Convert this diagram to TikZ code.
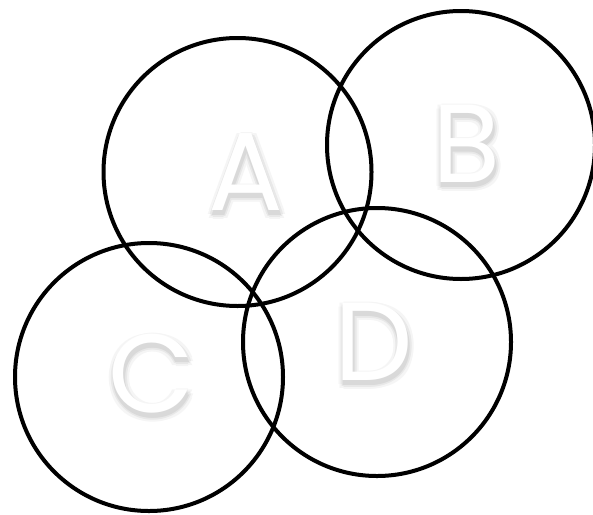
\documentclass[tikz,border=0pt]{standalone}
\usepackage{fontspec}
\setmainfont{Poppins}
\newcommand\shcp[4]{\rlap{\kern#1pt\raisebox{#2pt}{\textcolor{#3}{#4}}}}
\newcommand\embossed[1]{%
  \shcp{6}{-4}{black!4}{#1}\shcp{-4}{-4}{black!4}{#1}\shcp{1}{-9}{black!4}{#1}\shcp{1}{1}{black!4}{#1}%
  \shcp{5}{-8}{black!4}{#1}\shcp{-3}{-8}{black!4}{#1}\shcp{5}{0}{black!4}{#1}\shcp{-3}{0}{black!4}{#1}%
  \shcp{4}{-4}{black!9}{#1}\shcp{-2}{-4}{black!9}{#1}\shcp{1}{-7}{black!9}{#1}\shcp{1}{-1}{black!9}{#1}%
  \shcp{3}{-6}{black!9}{#1}\shcp{-1}{-6}{black!9}{#1}\shcp{3}{-2}{black!9}{#1}\shcp{-1}{-2}{black!9}{#1}%
  \shcp{2}{-5}{black!15}{#1}\shcp{0}{-5}{black!15}{#1}\shcp{1}{-3}{black!15}{#1}%
  \textcolor{white}{#1}}
\begin{document}
\begin{tikzpicture}[x=1pt,y=-1pt,
  ring/.style={draw=black,line width=4pt,circle,inner sep=0pt,minimum size=268pt},
  letter/.style={anchor=base,inner sep=0pt,font=\fontsize{111}{111}\selectfont}]
\useasboundingbox (0,0) rectangle (593,514);
\fill[white] (0,0) rectangle (593,514);
\node[ring] (cA) at (237.5,172) {};
\node[ring] (cB) at (461,145) {};
\node[ring] (cC) at (149,377) {};
\node[ring] (cD) at (377,342) {};
\node[letter] (lA) at (246,210) {\embossed{A}};
\node[letter] (lB) at (467,182) {\embossed{B}};
\node[letter] (lC) at (151,412) {\embossed{C}};
\node[letter] (lD) at (374,380) {\embossed{D}};
\end{tikzpicture}
\end{document}
